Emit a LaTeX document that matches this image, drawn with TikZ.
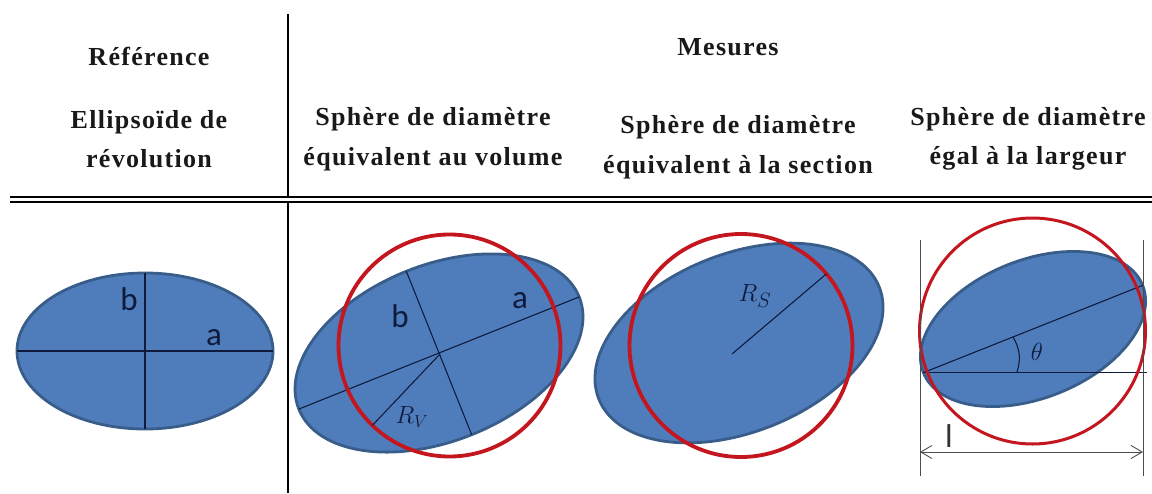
\documentclass[tikz,border=0pt]{standalone}
\usepackage{fontspec}
\setmainfont{Liberation Serif}
\newfontfamily\headfont[LetterSpace=5]{Liberation Serif}
\newfontfamily\lblfont{Carlito}
\usetikzlibrary{shapes.geometric,arrows.meta}
\definecolor{ellblue}{HTML}{4F7DBB}
\definecolor{elledge}{HTML}{385D8A}
\definecolor{sphred}{HTML}{C3161F}
\definecolor{inknavy}{HTML}{0F1B3D}
\tikzset{
  head/.style={font=\fontsize{26}{39.5}\selectfont\headfont\bfseries, text=black!90, inner sep=0pt, align=center},
  rule/.style={line width=1.8pt, draw=black},
  ell/.style={shape=ellipse, draw=elledge, fill=ellblue, line width=2.8pt, inner sep=0pt, outer sep=0pt},
  sph/.style={shape=circle, draw=sphred, line width=3.8pt, inner sep=0pt, outer sep=0pt},
  axis/.style={line width=1.1pt, draw=inknavy},
  thin/.style={line width=0.9pt, draw=black!70},
  lbl/.style={font=\fontsize{33}{35}\selectfont\lblfont, text=inknavy, inner sep=0pt},
  mlbl/.style={font=\fontsize{24}{26}\selectfont, text=inknavy, inner sep=0pt},
}
\begin{document}
\begin{tikzpicture}[x=1pt,y=-1pt]
  \useasboundingbox (0,0) rectangle (1152,493);
  % table head
  \node[head] (ref) at (149,56) {Référence};
  \node[head] (mes) at (728,47) {Mesures};
  \node[head] (hrev) at (149,139) {Ellipsoïde de\\révolution};
  \node[head] (hvol) at (433,139) {Sphère de diamètre\\équivalent au volume};
  \node[head] (hsec) at (738,147) {Sphère de diamètre\\équivalent à la section};
  \node[head] (hlar) at (1028,139) {Sphère de diamètre\\égal à la largeur};
  \coordinate (vt) at (288,14);
  \coordinate (vm) at (288,197);
  \coordinate (vn) at (288,203);
  \coordinate (vb) at (288,493);
  \coordinate (ra) at (10,197);
  \coordinate (rb) at (1152,197);
  \coordinate (sa) at (10,202);
  \coordinate (sb) at (1152,202);
  \draw[rule] (vt) -- (vm);
  \draw[rule] (vn) -- (vb);
  \draw[rule] (ra) -- (rb);
  \draw[rule] (sa) -- (sb);
  % reference ellipsoid
  \node[ell, minimum width=256pt, minimum height=156pt] (e1) at (145,351) {};
  \draw[axis] (e1.west) -- (e1.east);
  \draw[axis] (e1.north) -- (e1.south);
  \node[lbl] (e1b) at (129,299) {b};
  \node[lbl] (e1a) at (214,338) {a};
  % volume
  \node[ell, minimum width=302pt, minimum height=176pt, rotate=21.8] (e2) at (439,353) {};
  \draw[axis] (e2.west) -- (e2.east);
  \draw[axis] (e2.north) -- (e2.south);
  \node[sph, minimum size=222pt] (s2) at (449.5,345.5) {};
  \coordinate (c2) at (440,354);
  \draw[axis] (c2) -- (s2.-134);
  \node[lbl] (e2b) at (400,316) {b};
  \node[lbl] (e2a) at (520,301) {a};
  \node[mlbl] (rv) at (412,417) {$R_V$};
  % section
  \node[ell, minimum width=302pt, minimum height=178pt, rotate=21.8] (e3) at (739,343) {};
  \node[sph, minimum size=223pt] (s3) at (741,345.5) {};
  \coordinate (c3) at (732,354);
  \draw[axis] (c3) -- (s3.40);
  \node[mlbl, font=\fontsize{30}{32}\selectfont] (rs) at (755,296) {$R_S$};
  % width
  \node[ell, minimum width=236pt, minimum height=138pt, rotate=21.7] (e4) at (1033,329) {};
  \draw[axis] (e4.west) -- (e4.east);
  \coordinate (hx) at (1147,372);
  \draw[axis] (e4.west) -- (e4.west -| hx);
  \coordinate (tha) at (1017,372);
  \coordinate (thb) at (1013,337);
  \draw[axis] (tha) to[bend right=24] (thb);
  \node[sph, line width=3pt, minimum size=226pt] (s4) at (1032.5,331) {};
  \coordinate (la) at (920,240);
  \coordinate (lb) at (920,476);
  \coordinate (ma) at (1143,240);
  \coordinate (mb) at (1143,476);
  \coordinate (wa) at (920,452);
  \coordinate (wb) at (1143,452);
  \draw[thin] (la) -- (lb);
  \draw[thin] (ma) -- (mb);
  \draw[thin, {Straight Barb[length=11pt,width=13pt]}-{Straight Barb[length=11pt,width=13pt]}] (wa) -- (wb);
  \node[mlbl, font=\fontsize{28}{30}\selectfont] (th) at (1037,352) {$\theta$};
  \node[lbl, text=black!80] (wl) at (949,436) {l};
\end{tikzpicture}
\end{document}
